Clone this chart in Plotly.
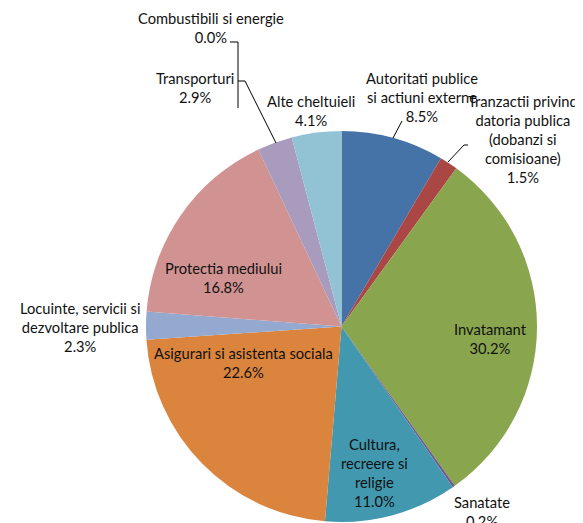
import plotly.graph_objects as go

# page size and the browser's default 8px body margin
PAGE_W, PAGE_H = 583, 523
OFF = 8
W, H = PAGE_W - OFF, PAGE_H - OFF

categories = [
    "Autoritati publice<br>si actiuni externe",
    "Tranzactii privind<br>datoria publica<br>(dobanzi si<br>comisioane)",
    "Invatamant",
    "Sanatate",
    "Cultura,<br>recreere si<br>religie",
    "Asigurari si asistenta sociala",
    "Locuinte, servicii si<br>dezvoltare publica",
    "Protectia mediului",
    "Combustibili si energie",
    "Transporturi",
    "Alte cheltuieli",
]
values = [8.5, 1.5, 30.2, 0.2, 11.0, 22.6, 2.3, 16.8, 0.0, 2.9, 4.1]
pct_labels = ["8.5%", "1.5%", "30.2%", "0.2%", "11.0%", "22.6%", "2.3%", "16.8%", "0.0%", "2.9%", "4.1%"]
colors = ["#4572A7", "#AA4643", "#89A54E", "#71588F", "#4198AF", "#DB843D",
          "#93A9CF", "#D19392", "#B9CD96", "#A99BBD", "#92C3D4"]

# label anchor positions (page pixels, centre of first line)
label_pos = [(422, 77), (523, 100), (490, 328), (482, 501), (374, 443), (243, 352),
             (80, 307), (224, 267), (211, 17), (195, 77), (311, 100)]

# leader lines (page pixel polylines)
leaders = [
    [(402, 121), (393, 138)],
    [(468, 145), (464, 145), (448, 162)],
    [(230, 42), (238, 42), (238, 108)],
    [(238, 81), (245, 81), (276, 143)],
]

def px(x, y):
    return (x - OFF) / W, 1 - (y - OFF) / H

cx, cy, r = 341.5, 326.5, 195.5
x0, y1 = px(cx - r, cy - r)
x1, y0 = px(cx + r, cy + r)
fig = go.Figure(go.Pie(
    values=values,
    labels=[c.replace("<br>", " ") for c in categories],
    marker=dict(colors=colors, line=dict(width=0)),
    sort=False,
    direction="clockwise",
    rotation=0,
    textinfo="none",
    hoverinfo="label+percent",
    domain=dict(x=[x0, x1], y=[y0, y1]),
    showlegend=False,
))

font = dict(family="Lato, Open Sans, sans-serif", size=14.7, color="#111111")
annotations = []
for cat, pct, (x, y) in zip(categories, pct_labels, label_pos):
    text = cat + "<br>" + pct
    ax, ay = px(x, y - 10)
    annotations.append(dict(
        x=ax, y=ay, xref="paper", yref="paper", text=text, showarrow=False,
        xanchor="center", yanchor="top", align="center", font=font,
    ))

shapes = []
for pts in leaders:
    path = "M " + " L ".join(f"{px(x, y)[0]},{px(x, y)[1]}" for x, y in pts)
    shapes.append(dict(type="path", path=path, xref="paper", yref="paper",
                       line=dict(color="#000000", width=1)))

fig.update_layout(
    width=W, height=H,
    margin=dict(l=0, r=0, t=0, b=0),
    paper_bgcolor="white", plot_bgcolor="white",
    annotations=annotations, shapes=shapes,
)
fig.write_html("out.html")
